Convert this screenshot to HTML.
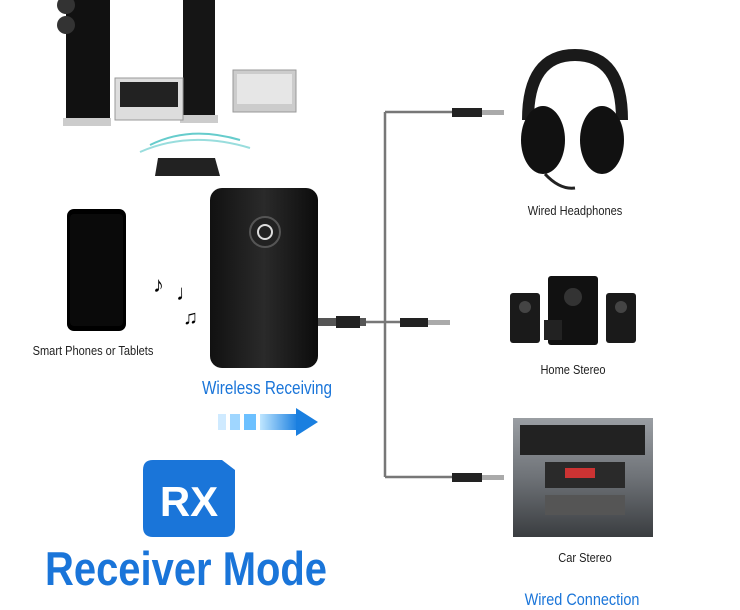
<!DOCTYPE html>
<html><head><meta charset="utf-8"><style>
body{margin:0;width:740px;height:609px;background:#fff;position:relative;overflow:hidden;font-family:"Liberation Sans",sans-serif}
.t{position:absolute;font-size:13px;color:#222;transform:scaleX(.85);transform-origin:center;white-space:nowrap;text-align:center}
</style></head><body>
<svg width="740" height="609" style="position:absolute;left:0;top:0">
<defs>
<linearGradient id="dev" x1="0" x2="1"><stop offset="0" stop-color="#111"/><stop offset=".5" stop-color="#2a2a2a"/><stop offset="1" stop-color="#0c0c0c"/></linearGradient>
<linearGradient id="ar" x1="0" x2="1"><stop offset="0" stop-color="#bfe6ff"/><stop offset="1" stop-color="#1a7fe0"/></linearGradient>
<linearGradient id="car" x1="0" y1="0" x2="0" y2="1"><stop offset="0" stop-color="#9a9ea3"/><stop offset=".5" stop-color="#6e7277"/><stop offset="1" stop-color="#3a3d40"/></linearGradient>
</defs>
<rect x="66" y="0" width="44" height="125" fill="#111"/>
<circle cx="66" cy="5" r="9" fill="#333"/><circle cx="66" cy="25" r="9" fill="#333"/>
<rect x="63" y="118" width="48" height="8" fill="#ccc"/>
<rect x="183" y="0" width="32" height="120" fill="#151515"/>
<rect x="180" y="115" width="38" height="8" fill="#ccc"/>
<rect x="115" y="78" width="68" height="42" fill="#ddd" stroke="#999"/>
<rect x="120" y="82" width="58" height="25" fill="#222"/>
<rect x="233" y="70" width="63" height="42" fill="#ccc" stroke="#999"/>
<rect x="237" y="74" width="55" height="30" fill="#e6e6e6"/>
<path d="M150 145 Q190 125 240 140" stroke="#6cc" stroke-width="2" fill="none"/>
<path d="M140 152 Q190 130 250 148" stroke="#9dd" stroke-width="2" fill="none"/>
<polygon points="158,158 215,158 220,176 155,176" fill="#222"/>
<rect x="67" y="209" width="59" height="122" rx="7" fill="#000"/>
<rect x="70" y="214" width="53" height="112" rx="4" fill="#0a0a0a"/>
<text x="153" y="292" font-size="22" fill="#000">♪</text>
<text x="176" y="300" font-size="22" fill="#000">♩</text>
<text x="183" y="324" font-size="20" fill="#000">♫</text>
<rect x="210" y="188" width="108" height="180" rx="12" fill="url(#dev)"/>
<circle cx="265" cy="232" r="15" fill="#222" stroke="#555" stroke-width="2"/>
<circle cx="265" cy="232" r="7" fill="none" stroke="#ddd" stroke-width="2"/>
<rect x="318" y="318" width="48" height="8" fill="#555"/>
<rect x="336" y="316" width="24" height="12" fill="#222"/>
<path d="M366 322 H385 M385 112 V477 M385 112 H455 M385 322 H400 M385 477 H455" stroke="#777" stroke-width="2.5" fill="none"/>
<rect x="452" y="108" width="30" height="9" fill="#222"/><rect x="482" y="110" width="22" height="5" fill="#aaa"/>
<rect x="400" y="318" width="28" height="9" fill="#222"/><rect x="428" y="320" width="22" height="5" fill="#aaa"/>
<rect x="452" y="473" width="30" height="9" fill="#222"/><rect x="482" y="475" width="22" height="5" fill="#aaa"/>
<path d="M528 120 Q528 55 575 55 Q622 55 622 120" stroke="#1a1a1a" stroke-width="12" fill="none"/>
<ellipse cx="543" cy="140" rx="22" ry="34" fill="#111"/>
<ellipse cx="602" cy="140" rx="22" ry="34" fill="#111"/>
<path d="M545 174 Q560 190 575 188" stroke="#222" stroke-width="3" fill="none"/>
<rect x="510" y="293" width="30" height="50" rx="3" fill="#1a1a1a"/>
<rect x="548" y="276" width="50" height="69" rx="3" fill="#111"/>
<circle cx="573" cy="297" r="9" fill="#333"/>
<rect x="606" y="293" width="30" height="50" rx="3" fill="#1a1a1a"/>
<circle cx="525" cy="307" r="6" fill="#444"/><circle cx="621" cy="307" r="6" fill="#444"/>
<rect x="544" y="320" width="18" height="20" fill="#222"/>
<rect x="513" y="418" width="140" height="119" fill="url(#car)"/>
<rect x="520" y="425" width="125" height="30" fill="#222"/>
<rect x="545" y="462" width="80" height="26" fill="#2a2a2a"/>
<rect x="565" y="468" width="30" height="10" fill="#c33"/>
<rect x="545" y="495" width="80" height="20" fill="#555"/>
<rect x="218" y="414" width="8" height="16" fill="#cfeaff"/>
<rect x="230" y="414" width="10" height="16" fill="#9fd6ff"/>
<rect x="244" y="414" width="12" height="16" fill="#6cc0ff"/>
<rect x="260" y="414" width="38" height="16" fill="url(#ar)"/>
<polygon points="296,408 318,422 296,436" fill="#1a7fe0"/>
<path d="M143 470 Q143 460 153 460 H222 L235 470 V527 Q235 537 225 537 H153 Q143 537 143 527 Z" fill="#1a75d9"/>
<text x="189" y="516" text-anchor="middle" font-family="Liberation Sans" font-weight="bold" font-size="42" fill="#fff">RX</text>
</svg>
<div class="t" style="left:13px;top:343px;width:160px">Smart Phones or Tablets</div>
<div class="t" style="left:495px;top:203px;width:160px">Wired Headphones</div>
<div class="t" style="left:493px;top:362px;width:160px">Home Stereo</div>
<div class="t" style="left:505px;top:550px;width:160px">Car Stereo</div>
<div class="t" style="left:487px;top:590px;width:190px;font-size:17px;color:#1a75d9">Wired Connection</div>
<div class="t" style="left:172px;top:378px;width:190px;font-size:18px;color:#1a75d9">Wireless Receiving</div>
<div style="position:absolute;left:45px;top:541px;font-size:47px;font-weight:bold;color:#1a75d9;white-space:nowrap;transform:scaleX(.85);transform-origin:left">Receiver Mode</div>
</body></html>
